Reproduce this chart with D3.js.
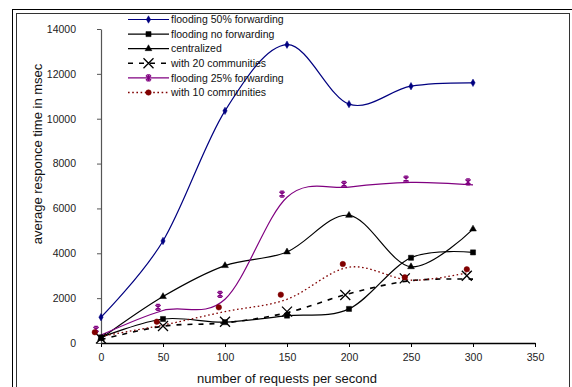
<!DOCTYPE html>
<html>
<head>
<meta charset="utf-8">
<script src="https://cdn.jsdelivr.net/npm/d3@7"></script>
<style>
  body { margin: 0; background: #fff; }
  svg { display: block; font-family: "Liberation Sans", Arial, sans-serif; }
</style>
</head>
<body>
<svg id="chart" width="572" height="387"></svg>
<script>
// values
var reqs = [0, 50, 100, 150, 200, 250, 300];
var xTicks = [0, 50, 100, 150, 200, 250, 300, 350];
var yTicks = [0, 2000, 4000, 6000, 8000, 10000, 12000, 14000];

var flood50 = [1150, 4550, 10350, 13300, 10650, 11450, 11600];
var floodNone = [250, 1070, 930, 1220, 1520, 3800, 4040];
var centralized = [200, 2070, 3450, 4060, 5690, 3400, 5080];

var comm20Line = [150, 750, 900, 1350, 2200, 2780, 2850];
var comm20MarkX = [0, 50, 100, 150, 197, 245, 295];
var comm20Mark = [200, 760, 950, 1400, 2140, 2880, 3000];

var flood25Line = [350, 1450, 1950, 6500, 6950, 7160, 7050];
var flood25MarkX = [-4, 46, 96, 146, 196, 246, 296];
var flood25Mark = [610, 1590, 2170, 6640, 7070, 7310, 7180];

var comm10Line = [300, 800, 1400, 1950, 3380, 2800, 3180];
var comm10MarkX = [-5, 45, 95, 145, 195, 245, 295];
var comm10Mark = [480, 950, 1590, 2155, 3520, 2930, 3285];

var legendNames = ['flooding 50% forwarding', 'flooding no forwarding', 'centralized',
                   'with 20 communities', 'flooding 25% forwarding', 'with 10 communities'];

function zip(xs, ys) {
	return xs.map(function(x, i) { return [x, ys[i]]; });
}

var series = [
	{name: legendNames[0], color: '#000080', width: 1.2, dash: null, marker: 'diamond',
	 line: zip(reqs, flood50), marks: zip(reqs, flood50)},
	{name: legendNames[1], color: '#000000', width: 1.2, dash: null, marker: 'square',
	 line: zip(reqs, floodNone), marks: zip(reqs, floodNone)},
	{name: legendNames[2], color: '#000000', width: 1.2, dash: null, marker: 'triangle',
	 line: zip(reqs, centralized), marks: zip(reqs, centralized)},
	{name: legendNames[3], color: '#000000', width: 1.6, dash: '5,6', marker: 'cross',
	 line: zip(reqs, comm20Line), marks: zip(comm20MarkX, comm20Mark)},
	{name: legendNames[4], color: '#800080', width: 1.2, dash: null, marker: 'star',
	 line: zip(reqs, flood25Line), marks: zip(flood25MarkX, flood25Mark)},
	{name: legendNames[5], color: '#800000', width: 1.3, dash: '1.6,2.6', marker: 'dot',
	 line: zip(reqs, comm10Line), marks: zip(comm10MarkX, comm10Mark)}
];

var svg = d3.select('#chart');

// double frame
svg.append('rect')
	.attr('x', 12.5).attr('y', 9.5)
	.attr('width', 570).attr('height', 400)
	.attr('fill', 'none').attr('stroke', '#000').attr('stroke-width', 1);
svg.append('rect')
	.attr('x', 16.5).attr('y', 13.5)
	.attr('width', 553).attr('height', 400)
	.attr('fill', 'none').attr('stroke', '#333').attr('stroke-width', 1);

var x = d3.scaleLinear().domain([0, 350]).range([101, 535]);
var y = d3.scaleLinear().domain([0, 14000]).range([343, 29]);

// axes
var xAxis = svg.append('g')
	.attr('transform', 'translate(0,343)')
	.call(d3.axisBottom(x).tickValues(xTicks).tickFormat(d3.format('d'))
		.tickSize(4).tickSizeOuter(0).tickPadding(5));
var yAxis = svg.append('g')
	.attr('transform', 'translate(101,0)')
	.call(d3.axisLeft(y).tickValues(yTicks).tickFormat(d3.format('d'))
		.tickSize(4).tickSizeOuter(0).tickPadding(21));

xAxis.select('.domain').attr('stroke', '#000').attr('stroke-width', 1.3);
yAxis.select('.domain').attr('stroke', '#555').attr('stroke-width', 1.2);
yAxis.selectAll('.tick line').attr('stroke', '#555');
svg.selectAll('.tick text')
	.attr('font-size', 10.5)
	.attr('font-family', '"Liberation Sans", Arial, sans-serif')
	.attr('fill', '#222');
xAxis.selectAll('.tick text').attr('dy', '0.9em');

svg.append('text')
	.attr('x', 287).attr('y', 383)
	.attr('text-anchor', 'middle')
	.attr('font-size', 13)
	.attr('fill', '#111')
	.text('number of requests per second');
svg.append('text')
	.attr('transform', 'translate(42,154) rotate(-90)')
	.attr('text-anchor', 'middle')
	.attr('font-size', 13)
	.attr('fill', '#111')
	.text('average responce time in msec');

function markerPath(kind) {
	if (kind === 'diamond') return d3.symbol(d3.symbolDiamond, 16)();
	if (kind === 'square') return d3.symbol(d3.symbolSquare, 26)();
	if (kind === 'triangle') return d3.symbol(d3.symbolTriangle, 20)();
	if (kind === 'dot') return d3.symbol(d3.symbolCircle, 24)();
	if (kind === 'cross') return 'M-5,-5L5,5M-5,5L5,-5';
	// star: asterisk, X with a vertical bar
	return 'M-2.6,-2.4L2.6,2.4M-2.6,2.4L2.6,-2.4M0,-3L0,3M-1.8,-3L1.8,-3M-1.8,3L1.8,3';
}

function drawMarker(g, kind, color, cx, cy) {
	var open = (kind === 'cross' || kind === 'star');
	g.append('path')
		.attr('d', markerPath(kind))
		.attr('transform', 'translate(' + cx + ',' + cy + ')')
		.attr('fill', open ? 'none' : color)
		.attr('stroke', color)
		.attr('stroke-width', kind === 'cross' ? 1.3 : (open ? 1.3 : 0.5));
}

var line = d3.line()
	.x(function(d) { return x(d[0]); })
	.y(function(d) { return y(d[1]); })
	.curve(d3.curveCardinal.tension(0));

var plot = svg.append('g');
series.forEach(function(s) {
	plot.append('path')
		.attr('d', line(s.line))
		.attr('fill', 'none')
		.attr('stroke', s.color)
		.attr('stroke-width', s.width)
		.attr('stroke-dasharray', s.dash);
});
series.forEach(function(s) {
	s.marks.forEach(function(m) {
		drawMarker(plot, s.marker, s.color, x(m[0]), y(m[1]));
	});
});

// legend
var legend = svg.append('g');
series.forEach(function(s, i) {
	var ly = 19.5 + i * 14.6;
	legend.append('line')
		.attr('x1', 128).attr('x2', 169)
		.attr('y1', ly).attr('y2', ly)
		.attr('stroke', s.color)
		.attr('stroke-width', s.width)
		.attr('stroke-dasharray', s.dash);
	drawMarker(legend, s.marker, s.color, 148.5, ly);
	legend.append('text')
		.attr('x', 171).attr('y', ly)
		.attr('dy', '0.35em')
		.attr('font-size', 10.5)
		.attr('fill', '#111')
		.text(s.name);
});
</script>
</body>
</html>
